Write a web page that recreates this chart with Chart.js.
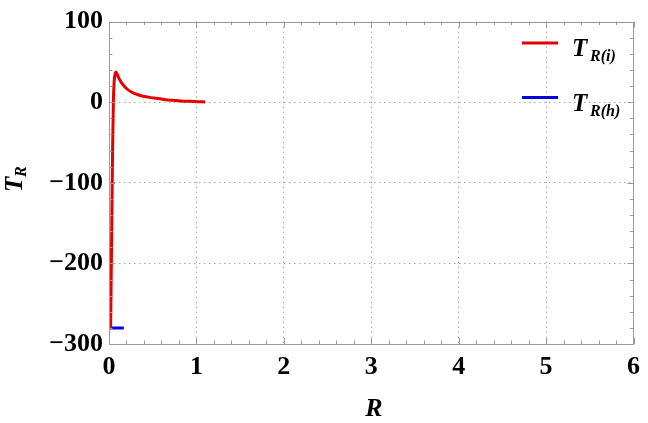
<!DOCTYPE html>
<html>
<head>
<meta charset="utf-8">
<script src="https://cdn.jsdelivr.net/npm/chart.js@4.4.1/dist/chart.umd.min.js"></script>
<style>
  html, body { margin: 0; background: #fff; }
  #wrap { width: 648px; height: 423px; }
</style>
</head>
<body>
<div id="wrap"><canvas id="c"></canvas></div>
<script>
// T_R(i) curve
const redR = [0.018, 0.027, 0.035, 0.042, 0.05, 0.058, 0.068, 0.079, 0.09, 0.11, 0.15, 0.2, 0.25, 0.34, 0.45, 0.54, 0.63, 0.72, 0.82, 0.91, 1.0, 1.1];
const redT = [-281, -200, -120, -52, 0, 24, 34, 37.5, 35.5, 30.5, 23, 17, 13, 9, 6.3, 4.8, 3.4, 2.4, 1.6, 1.1, 0.7, 0.3];
// T_R(h) short segment
const blueR = [0, 0.17];
const blueT = [-280, -280];
// axes
const xTicks = [0, 1, 2, 3, 4, 5, 6];
const yTicks = [-300, -200, -100, 0, 100];

const serif = '"Liberation Serif", "Times New Roman", serif';
const frameColor = '#9a9a9a';

const pts = (xs, ys) => xs.map((x, i) => ({ x: x, y: ys[i] }));

const decor = {
  id: 'decor',
  afterDraw(chart) {
    const ctx = chart.ctx, a = chart.chartArea;
    const sx = chart.scales.x, sy = chart.scales.y;
    ctx.save();
    // frame
    ctx.strokeStyle = frameColor;
    ctx.lineWidth = 1;
    ctx.strokeRect(Math.round(a.left) + 0.5, Math.round(a.top) + 0.5,
      Math.round(a.right - a.left) - 1, Math.round(a.bottom - a.top));
    // inward ticks
    ctx.beginPath();
    for (let i = 0; i <= 30; i++) {
      const v = i * 0.2, len = i % 5 === 0 ? 6 : 3.5;
      const px = Math.round(sx.getPixelForValue(v)) + 0.5;
      ctx.moveTo(px, a.bottom); ctx.lineTo(px, a.bottom - len);
      ctx.moveTo(px, a.top); ctx.lineTo(px, a.top + len);
    }
    for (let i = 0; i <= 20; i++) {
      const v = -300 + i * 20, len = i % 5 === 0 ? 6 : 3.5;
      const py = Math.round(sy.getPixelForValue(v)) + 0.5;
      ctx.moveTo(a.left, py); ctx.lineTo(a.left + len, py);
      ctx.moveTo(a.right, py); ctx.lineTo(a.right - len, py);
    }
    ctx.stroke();

    // legend
    const items = [
      { color: '#e60000', y: 43, sub: 'R(i)' },
      { color: '#0000dd', y: 97.5, sub: 'R(h)' }
    ];
    items.forEach(it => {
      ctx.strokeStyle = it.color;
      ctx.lineWidth = 3;
      ctx.beginPath();
      ctx.moveTo(522, it.y); ctx.lineTo(558, it.y);
      ctx.stroke();
      ctx.fillStyle = '#000';
      ctx.textBaseline = 'alphabetic';
      ctx.textAlign = 'left';
      ctx.font = 'italic bold 25px ' + serif;
      ctx.fillText('T', 572, it.y + 13);
      ctx.font = 'italic bold 16px ' + serif;
      ctx.fillText(it.sub, 590, it.y + 18);
    });

    // x title
    ctx.font = 'italic bold 26px ' + serif;
    ctx.textAlign = 'center';
    ctx.fillText('R', 374, 416);

    // y title
    ctx.translate(22, 182);
    ctx.rotate(-Math.PI / 2);
    ctx.textAlign = 'left';
    ctx.font = 'italic bold 25px ' + serif;
    ctx.fillText('T', -10, 0);
    ctx.font = 'italic bold 16px ' + serif;
    ctx.fillText('R', 5, 4);
    ctx.restore();
  }
};

const gridColor = edges => ctx => {
  const v = ctx.tick && ctx.tick.value;
  return edges.includes(v) ? 'rgba(0,0,0,0)' : '#a8a8a8';
};

new Chart(document.getElementById('c'), {
  type: 'scatter',
  data: {
    datasets: [
      {
        label: 'T_R(i)',
        data: pts(redR, redT),
        showLine: true,
        borderColor: '#e60000',
        borderWidth: 3,
        pointRadius: 0,
        cubicInterpolationMode: 'monotone'
      },
      {
        label: 'T_R(h)',
        data: pts(blueR, blueT),
        showLine: true,
        borderColor: '#0000dd',
        borderWidth: 3,
        pointRadius: 0
      }
    ]
  },
  options: {
    responsive: true,
    maintainAspectRatio: false,
    animation: false,
    layout: { padding: { top: 15, right: 8, left: 0, bottom: 0 } },
    plugins: { legend: { display: false }, tooltip: { enabled: false } },
    scales: {
      x: {
        type: 'linear',
        min: 0, max: 6,
        afterBuildTicks: s => { s.ticks = xTicks.map(v => ({ value: v })); },
        afterFit: s => { s.height = 79; },
        grid: { color: gridColor([0, 6]), drawTicks: false, lineWidth: 1 },
        border: { display: false, dash: [1.5, 3.5] },
        ticks: {
          padding: 8,
          color: '#000',
          font: { family: serif, size: 26, weight: 'bold' },
          callback: v => String(v)
        }
      },
      y: {
        type: 'linear',
        min: -300, max: 100,
        afterBuildTicks: s => { s.ticks = yTicks.map(v => ({ value: v })); },
        afterFit: s => { s.width = 109; },
        grid: { color: gridColor([-300, 100]), drawTicks: false, lineWidth: 1 },
        border: { display: false, dash: [1.5, 3.5] },
        ticks: {
          padding: 6,
          color: '#000',
          font: { family: serif, size: 26, weight: 'bold' },
          callback: v => String(v).replace('-', '\u2212')
        }
      }
    }
  },
  plugins: [decor]
});
</script>
</body>
</html>
